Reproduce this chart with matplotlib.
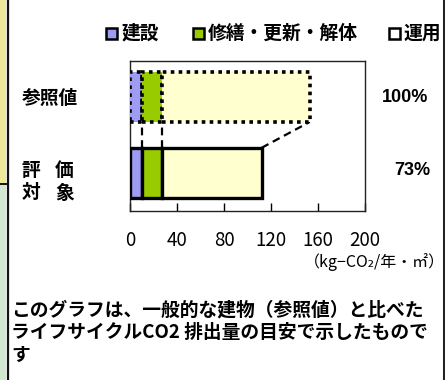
import numpy as np
import matplotlib
matplotlib.use("Agg")
import matplotlib.pyplot as plt
from matplotlib.patches import Rectangle
from matplotlib.lines import Line2D

plt.rcParams['font.family'] = ['Noto Sans CJK JP', 'DejaVu Sans']

# lifecycle CO2 (kg-CO2 / year / m2)
rows = ["参照値", "評 価", "対 象"]
construction = [10, 10]      # 建設
renewal = [17, 17]           # 修繕・更新・解体
operation = [126, 85]        # 運用
legend_labels = ["建設", "修繕・更新・解体", "運用"]
xticks = [0, 40, 80, 120, 160, 200]
unit_label = "（kg−CO₂/年・㎡）"
note_lines = ["このグラフは、一般的な建物（参照値）と比べた",
              "ライフサイクルCO2 排出量の目安で示したもので",
              "す"]

colors = ["#9d9cf2", "#99cc00", "#ffffd0"]
W, H = 445, 380

def px(x, y):
    return x / W, 1 - y / H

fig = plt.figure(figsize=(W / 100, H / 100), dpi=100)
ax = fig.add_axes([130 / W, 1 - 211 / H, 235 / W, 150 / H])

ypos = [1, 0]   # reference on top, evaluated below
h = 0.66
segments = [construction, renewal, operation]
totals = [sum(s[i] for s in segments) for i in range(2)]

for i, y in enumerate(ypos):
    left = 0
    for seg, c in zip(segments, colors):
        if i == 0:
            ax.barh(y, seg[i], left=left, height=h, color=c, edgecolor="black",
                    linewidth=2.6, linestyle=(0, (1, 1.2)), zorder=3)
        else:
            ax.barh(y, seg[i], left=left, height=h, color=c, edgecolor="black",
                    linewidth=2.4, zorder=3)
        left += seg[i]

# series lines between the two bars
b_ref = ypos[0] - h / 2
t_eval = ypos[1] + h / 2
c0 = np.cumsum([s[0] for s in segments])
c1 = np.cumsum([s[1] for s in segments])
for a, b in zip(c0, c1):
    ax.plot([b, a], [t_eval, b_ref], color="black", lw=1.6,
            linestyle=(0, (3.5, 2.2)), zorder=2)

ax.set_xlim(0, 200)
ax.set_ylim(-0.5, 1.47)
ax.set_xticks(xticks)
ax.set_xticklabels([str(t) for t in xticks], fontsize=13.5)
ax.tick_params(axis="x", direction="in", length=6, width=1, pad=14, colors="black")
ax.set_yticks([])
for s in ax.spines.values():
    s.set_linewidth(1.0)
    s.set_color("#222222")

# row labels and ratios
fig.text(*px(22, 98), rows[0], fontsize=13.5, fontweight="bold", va="center", ha="left")
for lab, yy in zip(rows[1:], [170, 193]):
    for ch, xx in zip(lab.split(" "), [22, 55]):
        fig.text(*px(xx, yy), ch, fontsize=13.5, fontweight="bold", va="center", ha="left")
pct = [round(t / totals[0] * 100) for t in totals]
fig.text(*px(428, 97), f"{pct[0]}%", fontsize=13, fontweight="bold", va="center",
         ha="right", family="Liberation Sans")
fig.text(*px(430, 171), f"{pct[1]}%", fontsize=13, fontweight="bold", va="center",
         ha="right", family="Liberation Sans")

# legend
for (sx, tx), c, lab in zip([(106, 122), (193, 208), (389, 404)], colors, legend_labels):
    fig.patches.append(Rectangle(px(sx, 39), 11 / W, 11 / H, transform=fig.transFigure,
                                 facecolor=c if c != colors[2] else "white",
                                 edgecolor="black", lw=1.8))
    fig.text(*px(tx, 33), lab, fontsize=13.5, fontweight="bold", va="center", ha="left")

fig.text(*px(304, 262), unit_label, fontsize=11.5, va="center", ha="left")

for k, line in enumerate(note_lines):
    fig.text(*px(11, 310 + 22.5 * k), line, fontsize=13.5, fontweight="bold",
             va="center", ha="left")

# page frame pieces
fig.patches.append(Rectangle(px(0, 183), 6 / W, 183 / H, transform=fig.transFigure,
                             facecolor="#efe79a", edgecolor="none"))
fig.patches.append(Rectangle(px(0, 380), 6 / W, 195 / H, transform=fig.transFigure,
                             facecolor="#cfe8cf", edgecolor="none"))
fig.lines.append(Line2D([7.5 / W, 7.5 / W], [0, 1], transform=fig.transFigure,
                        color="#111111", lw=1.6))
fig.lines.append(Line2D([0, 8 / W], [1 - 184 / H, 1 - 184 / H], transform=fig.transFigure,
                        color="#111111", lw=1.4))
fig.lines.append(Line2D([443.5 / W, 443.5 / W], [0, 1], transform=fig.transFigure,
                        color="#222222", lw=2.2))

fig.savefig("out.png", dpi=100)
